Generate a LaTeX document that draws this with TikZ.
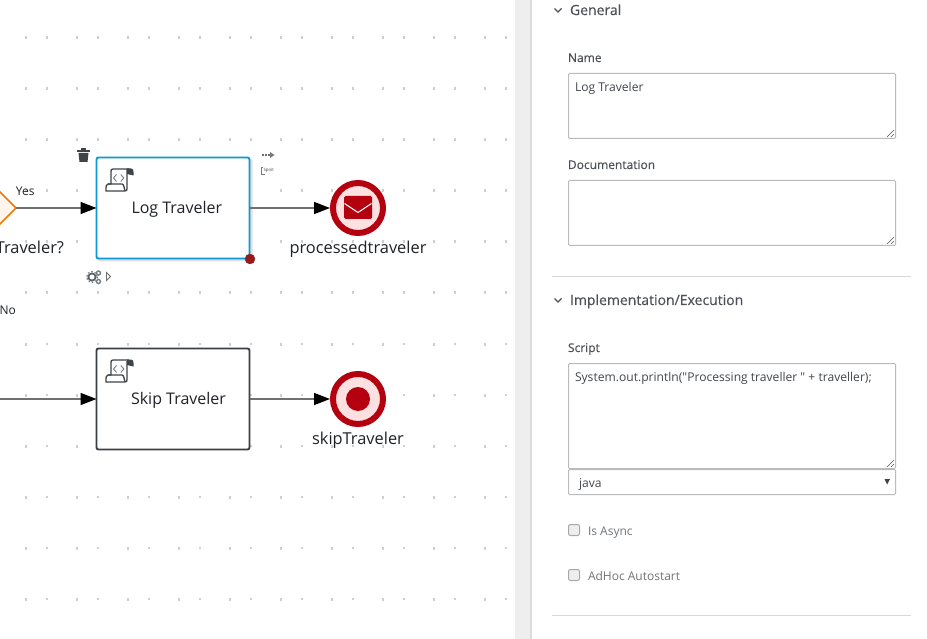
\documentclass[tikz,border=0pt]{standalone}
\usepackage{fontspec}
\setmainfont{Open Sans}
\newfontfamily\semi[FakeBold=0.3]{Open Sans}
\newfontfamily\plainq{Open Sans}
\usetikzlibrary{arrows.meta,shapes.geometric}
\definecolor{ink}{HTML}{1F2226}
\definecolor{paneltext}{HTML}{4D5258}
\definecolor{fieldline}{HTML}{BBBBBB}
\definecolor{sepline}{HTML}{D8D8D8}
\definecolor{flowgrey}{HTML}{707070}
\definecolor{selblue}{HTML}{0A9AD4}
\definecolor{taskline}{HTML}{393F44}
\definecolor{endred}{HTML}{B5000F}
\definecolor{endfill}{HTML}{FDE0E0}
\definecolor{gwline}{HTML}{EC7A08}
\definecolor{gwfill}{HTML}{FFF5EC}
\definecolor{dotgrey}{HTML}{CFCFCF}
\definecolor{gutter}{HTML}{EEEEEE}
\definecolor{gutterdark}{HTML}{DCDCDC}
\definecolor{icon}{HTML}{3F4448}
\tikzset{
  every node/.style={inner sep=0pt,outer sep=0pt},
  taskbox/.style={draw=taskline,line width=1.9pt,rounded corners=2pt,fill=white,minimum width=153pt,minimum height=101pt},
  flow/.style={draw=flowgrey,line width=1.6pt,-{Triangle[length=16pt,width=12pt,color=black,fill=black]}},
  endev/.style={circle,draw=endred,line width=6pt,fill=endfill,minimum size=50pt,outer sep=3pt},
  diag/.style={text=ink,font=\fontsize{16.4}{18}\selectfont,anchor=base},
  tasklabel/.style={text=ink,font=\fontsize{16}{18}\selectfont,anchor=base},
  edgelabel/.style={text=ink,font=\fontsize{12}{14}\selectfont,anchor=base west},
  head/.style={text=paneltext,font=\semi\fontsize{14}{16}\selectfont,anchor=base west},
  lab/.style={text=paneltext,font=\semi\fontsize{12}{14}\selectfont,anchor=base west},
  val/.style={text=paneltext!85!black,font=\plainq\fontsize{12.1}{14}\selectfont,anchor=base west},
  chk/.style={text=paneltext!80!white,font=\fontsize{12}{14}\selectfont,anchor=base west},
  field/.style={draw=fieldline,line width=1pt,rounded corners=1pt,fill=white},
  cbox/.style={draw=fieldline!90!black,line width=1pt,rounded corners=2pt,fill=gutter},
  sep/.style={draw=sepline,line width=1pt},
  chev/.style={draw=paneltext,line width=1.1pt},
  grip/.style={draw=paneltext,line width=.5pt},
  scr/.style={draw=icon,line width=1.3pt,line join=round},
  scrthin/.style={draw=icon!70!white,line width=.9pt},
}
\newcommand{\scripticon}[1]{%
  \begin{scope}[yshift=#1]
    \draw[scr] (129,169) -- (113,169) .. controls (111,169) and (111,170) .. (111,172) -- (111,184) -- (108,184) .. controls (106,184) and (106,186) .. (106,191) -- (125,191) .. controls (127,191) and (127,190) .. (127,188) -- (127,170);
    \draw[scr] (108,184) -- (122,184) .. controls (124,184) and (124,188) .. (125,191);
    \fill[icon] (127,168.5) -- (131,168.5) .. controls (133,168.5) and (133.5,170) .. (133.5,172) -- (133.5,175.5) -- (127,174) -- cycle;
    \draw[scrthin] (116.5,174.5) -- (113.5,178) -- (116.5,181.5);
    \draw[scrthin] (120.8,174.5) -- (123.8,178) -- (120.8,181.5);
  \end{scope}}
\newcommand{\grip}[2]{%
  \draw[grip] (#1-7,#2+0) -- (#1,#2-7);
  \draw[grip] (#1-3,#2+0) -- (#1,#2-3);}
\begin{document}
\begin{tikzpicture}[x=1pt,y=-1pt]
\useasboundingbox (0,0) rectangle (927,639);
\clip (0,0) rectangle (927,639);
\fill[white] (0,0) rectangle (927,639);
% grid dots
\foreach \r in {38,89,...,599}{
  \foreach \c in {26,77,...,485}{\fill[dotgrey] (\c-1,\r-1.5) rectangle (\c+1,\r+1.5);}
  \foreach \c in {47,98,...,506}{\fill[dotgrey] (\c-1.5,\r-1.5) rectangle (\c+1,\r+1);}
}
% gutter
\fill[gutter] (515,0) rectangle (530,639);
\fill[gutterdark] (530,0) rectangle (532,639);
% shadow of the selected task
\fill[black!12,rounded corners=2pt] (98,159) rectangle (252.5,261.5);
% nodes
\node[diamond,draw=gwline,line width=1.6pt,fill=gwfill,minimum width=36pt,minimum height=36pt] (gw) at (-2,208) {};
\coordinate (noin) at (0,399);
\node[taskbox,draw=selblue] (log) at (173,208) {};
\node[taskbox] (skip) at (173,399) {};
\node[endev] (mail) at (358,208) {};
\node[endev] (stop) at (358,399) {};
\node[tasklabel] (logt) at (176.8,213.7) {Log Traveler};
\node[tasklabel] (skipt) at (178.5,404.7) {Skip Traveler};
\node[diag,anchor=base east] (gwt) at (64,253.7) {Traveler?};
\node[diag] (mailt) at (358,253.7) {processedtraveler};
\node[diag] (stopt) at (358,444.7) {skipTraveler};
\node[edgelabel] (yes) at (16,196) {Yes};
\node[edgelabel] (no) at (-0.5,315) {No};
% connectors
\draw[flow] (gw.east) -- (log.west);
\draw[flow] (log.east) -- (mail.west);
\draw[flow] (noin) -- (skip.west);
\draw[flow] (skip.east) -- (stop.west);
% script icons
\scripticon{0pt}
\scripticon{-191pt}
% envelope
\fill[endred,rounded corners=1.5pt] (344,196) rectangle (372,219);
\draw[white,line width=1.1pt] (344.5,203.5) -- (358,212.5) -- (371.5,203.5);
% stop dot
\fill[endred] (358,399) circle (12);
% selection corner
\fill[black!45!red!90!white,draw=red!35!black!80] (250,259) circle (5);
% trash
\fill[icon] (81,148.5) rectangle (85.5,150);
\fill[icon] (77,150) rectangle (90,152);
\fill[icon] (78.5,153) -- (88.5,153) -- (87.5,162) -- (79.5,162) -- cycle;
% gears
\draw[icon!85!white,line width=1.8pt] (92,277) circle (3.6);
\draw[icon!70!white,line width=1.2pt,dash pattern=on 1.5pt off 2pt] (92,277) circle (5.5);
\draw[icon!70!white,line width=1.4pt] (98.5,273) circle (2);
\draw[icon!70!white,line width=1.4pt] (98.5,281.5) circle (2);
\draw[flowgrey,line width=.9pt] (106.5,272.5) -- (110.5,276.5) -- (106.5,280.5) -- cycle;
% connector tools
\draw[flowgrey,line width=1.2pt,dash pattern=on 2pt off 1pt] (262,155) -- (271,155);
\fill[icon!70!white] (270,152) -- (274.5,155) -- (270,158) -- cycle;
\draw[icon!70!white,line width=.9pt] (263,167) -- (261,167) -- (261,174.5) -- (265,174.5);
\node[text=icon,font=\fontsize{4.4}{5}\selectfont,anchor=base west] (tool) at (263.5,172) {Spnit};
% panel
\draw[chev] (554.5,8.5) -- (558,12) -- (561.5,8.5);
\node[head] (general) at (570,15) {General};
\node[lab] (namel) at (568,62) {Name};
\draw[field] (568.5,73.5) rectangle (895.5,138.5);
\grip{894}{137}
\node[val] (namev) at (575,91.7) {Log Traveler};
\node[lab] (docl) at (568,169) {Documentation};
\draw[field] (568.5,180.5) rectangle (895.5,245.5);
\grip{894}{244}
\draw[sep] (552,276.5) -- (911,276.5);
\draw[chev] (554.5,298.5) -- (558,302) -- (561.5,298.5);
\node[head] (impl) at (570,305) {Implementation/Execution};
\node[lab] (scriptl) at (568,352) {Script};
\draw[field] (568.5,363.5) rectangle (895.5,468.5);
\grip{894}{467}
\node[val] (scriptv) at (575,381) {System.out.println("Processing traveller " + traveller);};
\draw[field] (568.5,469.5) rectangle (895.5,494.5);
\node[val] (lang) at (579,487) {java};
\fill[icon] (884.5,479) -- (890,479) -- (887.2,484.5) -- cycle;
\draw[cbox] (568.5,524.5) rectangle (579.5,535.5);
\node[chk] (async) at (588,535) {Is Async};
\draw[cbox] (568.5,569.5) rectangle (579.5,580.5);
\node[chk] (adhoc) at (588,580) {AdHoc Autostart};
\draw[sep] (552,615.5) -- (911,615.5);
\end{tikzpicture}
\end{document}
